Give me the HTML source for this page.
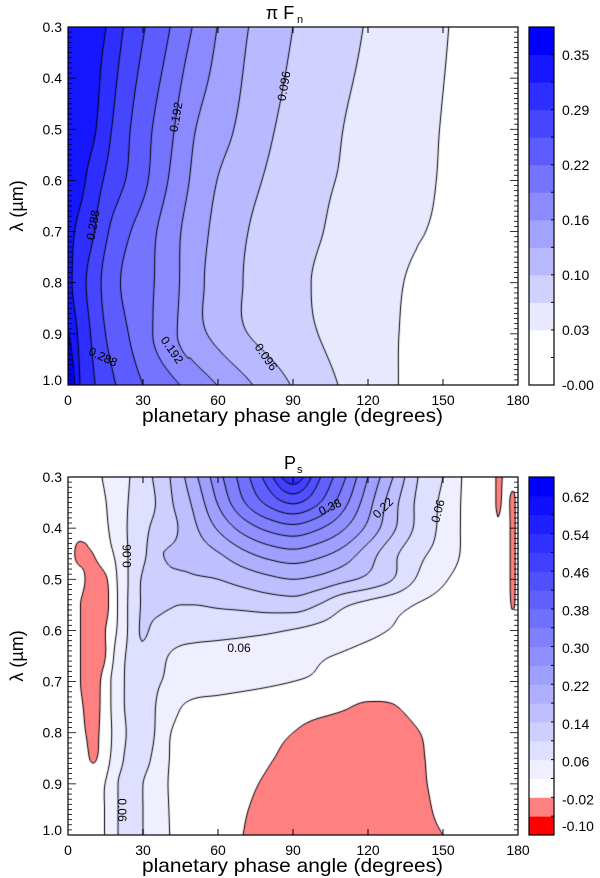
<!DOCTYPE html>
<html><head><meta charset="utf-8"><style>
html,body{margin:0;padding:0;background:#fff;}
#wrap{position:relative;width:600px;height:878px;overflow:hidden;background:#fff;}
canvas{position:absolute;}
svg{position:absolute;left:0;top:0;}
text{font-family:"Liberation Sans",sans-serif;fill:#000;}
</style></head><body>
<div id="wrap">
<canvas id="cTop" width="450" height="358" style="left:68px;top:27px"></canvas>
<canvas id="cBot" width="450" height="358" style="left:68px;top:477px"></canvas>
<svg id="ov" width="600" height="878"></svg>
</div>
<script>
// ---------- Data: top panel (pi F_n) ----------
const fnPhase = [0,5,10,15,20,30,40,50,60,70,80,90,100,110,120,130,140,150,160,170,180];
const fnLambda = [0.3,0.5,0.6,0.7,0.8,0.9,1.0];
const fnRow03 = [0.345,0.337,0.329,0.321,0.297,0.259,0.227,0.191,0.159,0.133,0.113,0.096,0.084,0.073,0.062,0.053,0.044,0.034,0.026,0.019,0.012];
const fnRow05 = [0.345,0.335,0.325,0.300,0.276,0.237,0.202,0.163,0.142,0.120,0.100,0.087,0.075,0.064,0.056,0.047,0.039,0.031,0.025,0.018,0.012];
const fnRow06 = [0.340,0.328,0.306,0.284,0.266,0.232,0.192,0.155,0.127,0.107,0.093,0.083,0.069,0.062,0.054,0.046,0.038,0.030,0.024,0.018,0.012];
const fnRow07 = [0.330,0.311,0.291,0.262,0.240,0.210,0.177,0.145,0.119,0.099,0.087,0.078,0.066,0.058,0.050,0.042,0.034,0.028,0.022,0.017,0.012];
const fnRow08 = [0.330,0.300,0.274,0.247,0.227,0.203,0.177,0.140,0.116,0.096,0.085,0.073,0.061,0.053,0.044,0.036,0.027,0.022,0.018,0.015,0.012];
const fnRow09 = [0.355,0.310,0.283,0.256,0.238,0.205,0.172,0.141,0.119,0.099,0.086,0.075,0.064,0.053,0.045,0.034,0.027,0.022,0.018,0.015,0.012];
const fnRow10 = [0.400,0.318,0.292,0.271,0.253,0.224,0.202,0.181,0.159,0.137,0.114,0.094,0.077,0.061,0.048,0.034,0.027,0.022,0.018,0.015,0.012];
const fnLevels = [0.032,0.064,0.096,0.128,0.160,0.192,0.224,0.256,0.288,0.320,0.352];
const fnBarLabels = ["-0.00","0.03","0.10","0.16","0.22","0.29","0.35"];

// ---------- Data: bottom panel (P_s) ----------
const psPhase = [0,5,10,15,20,25,30,35,40,45,50,60,70,80,90,100,110,120,130,140,150,160,170,172,175,178,180];
const psLambda = [0.3,0.35,0.4,0.45,0.5,0.55,0.6,0.65,0.7,0.75,0.8,0.85,0.9,0.95,1.0];
const psRow030 = [0.00,0.005,0.012,0.024,0.042,0.061,0.083,0.106,0.135,0.168,0.205,0.285,0.36,0.44,0.53,0.43,0.35,0.26,0.18,0.10,0.06,0.01,0.0,-0.03,-0.01,0.0,0.0];
const psRow035 = [-0.005,0.0,0.01,0.019,0.042,0.064,0.082,0.10,0.129,0.157,0.186,0.263,0.335,0.39,0.425,0.385,0.316,0.236,0.156,0.092,0.052,0.01,0.0,-0.03,-0.005,-0.03,0.0];
const psRow040 = [-0.01,-0.005,0.005,0.015,0.04,0.067,0.088,0.11,0.122,0.145,0.17,0.225,0.275,0.31,0.327,0.305,0.265,0.21,0.147,0.09,0.05,0.01,0.0,-0.01,0.0,-0.03,0.0];
const psRow045 = [0.0,-0.03,-0.02,0.005,0.03,0.067,0.09,0.13,0.143,0.148,0.155,0.177,0.21,0.235,0.247,0.232,0.205,0.16,0.11,0.07,0.045,0.01,0.0,0.0,0.0,-0.03,0.0];
const psRow050 = [0.0,-0.01,-0.035,-0.025,0.024,0.068,0.105,0.12,0.13,0.132,0.135,0.14,0.155,0.17,0.18,0.17,0.15,0.13,0.10,0.055,0.025,0.005,0.0,0.0,0.0,-0.03,0.0];
const psRow055 = [0.005,-0.02,-0.04,-0.03,0.022,0.07,0.105,0.11,0.105,0.10,0.10,0.105,0.11,0.117,0.12,0.10,0.067,0.048,0.033,0.018,0.008,0.0,0.0,0.0,0.0,-0.025,0.0];
const psRow060 = [0.005,-0.02,-0.04,-0.02,0.025,0.07,0.105,0.09,0.08,0.075,0.072,0.07,0.068,0.065,0.058,0.048,0.038,0.028,0.018,0.01,0.005,0.0,0.0,0.0,0.0,0.0,0.0];
const psRow065 = [0.005,-0.02,-0.04,-0.02,0.04,0.07,0.09,0.075,0.06,0.052,0.05,0.048,0.045,0.04,0.033,0.024,0.017,0.01,0.005,0.0,0.0,0.0,0.0,0.0,0.0,0.0,0.0];
const psRow070 = [0.005,-0.02,-0.04,0.0,0.045,0.07,0.078,0.065,0.055,0.045,0.04,0.035,0.03,0.025,0.02,0.015,0.005,0.0,-0.005,0.0,0.0,0.0,0.0,0.0,0.0,0.0,0.0];
const psRow075 = [0.005,-0.015,-0.035,0.0,0.045,0.07,0.08,0.06,0.04,0.021,0.012,0.008,0.004,0.0,-0.005,-0.01,-0.017,-0.025,-0.022,-0.01,-0.005,0.0,0.0,0.0,0.0,0.0,0.0];
const psRow080 = [0.005,-0.01,-0.03,0.0,0.04,0.068,0.08,0.058,0.025,0.01,0.005,0.0,-0.005,-0.013,-0.02,-0.03,-0.035,-0.04,-0.035,-0.021,-0.01,0.0,0.0,0.0,0.0,0.0,0.0];
const psRow085 = [0.0,0.0,-0.025,0.005,0.045,0.07,0.07,0.05,0.022,0.01,0.003,-0.003,-0.01,-0.018,-0.026,-0.034,-0.038,-0.042,-0.038,-0.024,-0.01,0.0,0.0,0.0,0.0,0.0,0.0];
const psRow090 = [0.0,0.0,0.005,0.021,0.06,0.075,0.06,0.04,0.02,0.01,0.005,-0.005,-0.015,-0.023,-0.032,-0.038,-0.042,-0.044,-0.04,-0.026,-0.01,0.0,0.0,0.0,0.0,0.0,0.0];
const psRow095 = [0.0,0.0,0.005,0.022,0.06,0.075,0.06,0.04,0.021,0.01,0.005,-0.006,-0.018,-0.026,-0.034,-0.039,-0.043,-0.044,-0.04,-0.03,-0.012,0.0,0.0,0.0,0.0,0.0,0.0];
const psRow100 = [0.0,0.0,0.005,0.022,0.06,0.075,0.06,0.04,0.022,0.01,0.005,-0.008,-0.02,-0.03,-0.036,-0.04,-0.043,-0.044,-0.04,-0.032,-0.02,-0.005,0.0,0.0,0.0,0.0,0.0];
const psLevels = [-0.06,-0.02,0.02,0.06,0.10,0.14,0.18,0.22,0.26,0.30,0.34,0.38,0.42,0.46,0.50,0.54,0.58,0.62];
const psBarLabels = ["0.62","0.54","0.46","0.38","0.30","0.22","0.14","0.06","-0.02","-0.10"];

const xTicks = [0,30,60,90,120,150,180];
const yTicks = [0.3,0.4,0.5,0.6,0.7,0.8,0.9,1.0];

const fnGrid = [fnRow03,fnRow05,fnRow06,fnRow07,fnRow08,fnRow09,fnRow10];
const psGrid = [psRow030,psRow035,psRow040,psRow045,psRow050,psRow055,psRow060,psRow065,psRow070,psRow075,psRow080,psRow085,psRow090,psRow095,psRow100];

// cubic Hermite interpolation on a non-uniform 1-D grid
function herm(A,V,x){
 const n=A.length;let i=0;while(i<n-2&&x>A[i+1])i++;
 const h=A[i+1]-A[i];let t=(x-A[i])/h;t=Math.max(0,Math.min(1,t));
 const sec=k=>(V[k+1]-V[k])/(A[k+1]-A[k]);
 const slope=k=>{if(k===0)return sec(0);if(k===n-1)return sec(n-2);
  const a=sec(k-1),b=sec(k);if(a*b<=0)return 0;return (a+b)/2;};
 const m0=slope(i)*h,m1=slope(i+1)*h;const t2=t*t,t3=t2*t;
 return (2*t3-3*t2+1)*V[i]+(t3-2*t2+t)*m0+(-2*t3+3*t2)*V[i+1]+(t3-t2)*m1;
}
// build a field sampler on pixel grid: returns F[y][x]
function sample(P,L,Z,nx,ny,dx,dy){
 const out=[];for(let j=0;j<ny;j++)out.push(new Float32Array(nx));
 for(let i=0;i<nx;i++){const p=Math.min(180,Math.max(0,(i*dx)/W*180));
  const col=Z.map(row=>herm(P,row,p));
  for(let j=0;j<ny;j++){const l=Math.min(1,Math.max(0.3,0.3+(j*dy)/H*0.7));out[j][i]=herm(L,col,l);}}
 return out;
}

const W=450,H=358;
function xScale(p){return p/180*W;}
function yScale(l){return (l-0.3)/0.7*H;}

function fnColor(v){let k=Math.floor(v/0.032);k=Math.max(0,Math.min(11,k));const c=Math.round(255*(1-k/11));return [c,c,255];}
function psColor(v){if(v<-0.06)return [255,0,0];if(v<-0.02)return [255,128,128];if(v<0.02)return [255,255,255];
 let k=Math.floor((v-0.02)/0.04)+1;k=Math.min(16,k);const c=Math.round(255*(1-k/16));return [c,c,255];}

function render(cv,P,L,Z,colorFn,levels){
 const ctx=cv.getContext('2d');const img=ctx.createImageData(W,H);
 const F=sample(P,L,Z,W+1,H+1,1,1);
 for(let y=0;y<H;y++)for(let x=0;x<W;x++){
  const v=(F[y][x]+F[y][x+1]+F[y+1][x]+F[y+1][x+1])/4;const c=colorFn(v);const o=(y*W+x)*4;
  img.data[o]=c[0];img.data[o+1]=c[1];img.data[o+2]=c[2];img.data[o+3]=255;}
 ctx.putImageData(img,0,0);
 const s=2,nx=Math.floor(W/s)+1,ny=Math.floor(H/s)+1;
 const V=sample(P,L,Z,nx,ny,s,s);
 ctx.strokeStyle='#000';ctx.lineWidth=1;ctx.beginPath();
 for(const lv of levels){
  for(let j=0;j<ny-1;j++)for(let i=0;i<nx-1;i++){
   const a=V[j][i],b=V[j][i+1],c=V[j+1][i+1],d=V[j+1][i];
   const x0=i*s,y0=j*s;const pts=[];
   const e=(u,w)=>(lv-u)/(w-u);
   if((a<lv)!==(b<lv))pts.push([x0+e(a,b)*s,y0]);
   if((b<lv)!==(c<lv))pts.push([x0+s,y0+e(b,c)*s]);
   if((d<lv)!==(c<lv))pts.push([x0+e(d,c)*s,y0+s]);
   if((a<lv)!==(d<lv))pts.push([x0,y0+e(a,d)*s]);
   for(let k=0;k+1<pts.length;k+=2){ctx.moveTo(pts[k][0],pts[k][1]);ctx.lineTo(pts[k+1][0],pts[k+1][1]);}
  }}
 ctx.stroke();
}
render(document.getElementById('cTop'),fnPhase,fnLambda,fnGrid,fnColor,fnLevels);
render(document.getElementById('cBot'),psPhase,psLambda,psGrid,psColor,psLevels);

// ---------- overlay: axes, ticks, labels ----------
const NS='http://www.w3.org/2000/svg';const svg=document.getElementById('ov');
function el(tag,attrs,parent){const e=document.createElementNS(NS,tag);for(const k in attrs)e.setAttribute(k,attrs[k]);(parent||svg).appendChild(e);return e;}
function txt(s,attrs,parent){const t=el('text',attrs,parent);t.textContent=s;return t;}

function axes(top,name){
 const X0=68,Y0=top,g=el('g',{});
 
 
 el('rect',{x:X0,y:Y0,width:W,height:H,fill:'none',stroke:'#000','stroke-width':1.2},g);
 for(const t of xTicks){const x=X0+xScale(t);
  el('line',{x1:x,y1:Y0+H,x2:x,y2:Y0+H-6,stroke:'#000'},g);
  el('line',{x1:x,y1:Y0,x2:x,y2:Y0+6,stroke:'#000'},g);
  const lb=txt(String(t),{x:x,y:Y0+H+20,'font-size':14,'text-anchor':'middle'},g);
  
  }
 for(let k=0;k<=70;k++){const l=0.3+k*0.01;const y=Y0+yScale(l);const len=(k%10===0)?8:4;
  el('line',{x1:X0,y1:y,x2:X0+len,y2:y,stroke:'#000','stroke-width':0.8},g);
  el('line',{x1:X0+W,y1:y,x2:X0+W-len,y2:y,stroke:'#000','stroke-width':0.8},g);}
 for(const l of yTicks){const y=Y0+yScale(l);
  const lb=txt(l.toFixed(1),{x:62,y:(l>=1.0?y:y+5),'font-size':14,'text-anchor':'end'},g);
  
  }
 const xt=txt('planetary phase angle (degrees)',{x:292.5,y:Y0+H+37,'font-size':19.5,'text-anchor':'middle',textLength:301,lengthAdjust:'spacingAndGlyphs'},g);
 
 
 const yt=txt('λ (µm)',{x:0,y:0,'font-size':18,'text-anchor':'middle',transform:`translate(23,${Y0+H/2}) rotate(-90)`},g);
 
 
}
axes(27,'flux');axes(477,'polarization');

const t1=txt('π F',{x:280,y:19,'font-size':18,'text-anchor':'middle'});

txt('n',{x:297,y:23,'font-size':11});
const t2=txt('P',{x:290,y:469,'font-size':18,'text-anchor':'middle'});

txt('s',{x:297,y:473,'font-size':11});

function colorbar(top,n,colorOf,labels,labelY,name){
 const g=el('g',{});
 const bh=H/n;
 for(let i=0;i<n;i++){const c=colorOf(i);const r=el('rect',{x:529,y:top+H-(i+1)*bh,width:25,height:bh+0.5,fill:`rgb(${c[0]},${c[1]},${c[2]})`},g);
  
  if(i>0)el('line',{x1:554,y1:top+H-i*bh,x2:551,y2:top+H-i*bh,stroke:'#000','stroke-width':1},g);}
 el('rect',{x:529,y:top,width:25,height:H,fill:'none',stroke:'#000','stroke-width':1.2},g);
 labels.forEach((s,i)=>{const lb=txt(s,{x:562,y:labelY(i)+5,'font-size':14},g);
  });
}
colorbar(27,13,i=>{const k=Math.max(0,i-1);return fnColor(k*0.032+0.001);},fnBarLabels,i=>385-55*i,'flux-colorbar');
colorbar(477,19,i=>psColor(-0.08+0.04*i),psBarLabels,i=>i<9?497+37.8*i:826,'polarization-colorbar');

const cl=[['0.192',176,117,-80],['0.096',284,86,-80],['0.288',93,225,-80],
 ['0.288',103,357,25],['0.192',172,350,55],['0.096',266,357,55],
 ['0.38',330,507,-25],['0.22',383,508,-45],['0.06',438,511,-75],
 ['0.06',127,556,-90],['0.06',239,648,0],['0.06',122,810,90]];
for(const [s,x,y,r] of cl){const t=txt(s,{x:x,y:y+4,'font-size':12,'text-anchor':'middle',transform:`rotate(${r} ${x} ${y})`});
 }
</script>
</body></html>
